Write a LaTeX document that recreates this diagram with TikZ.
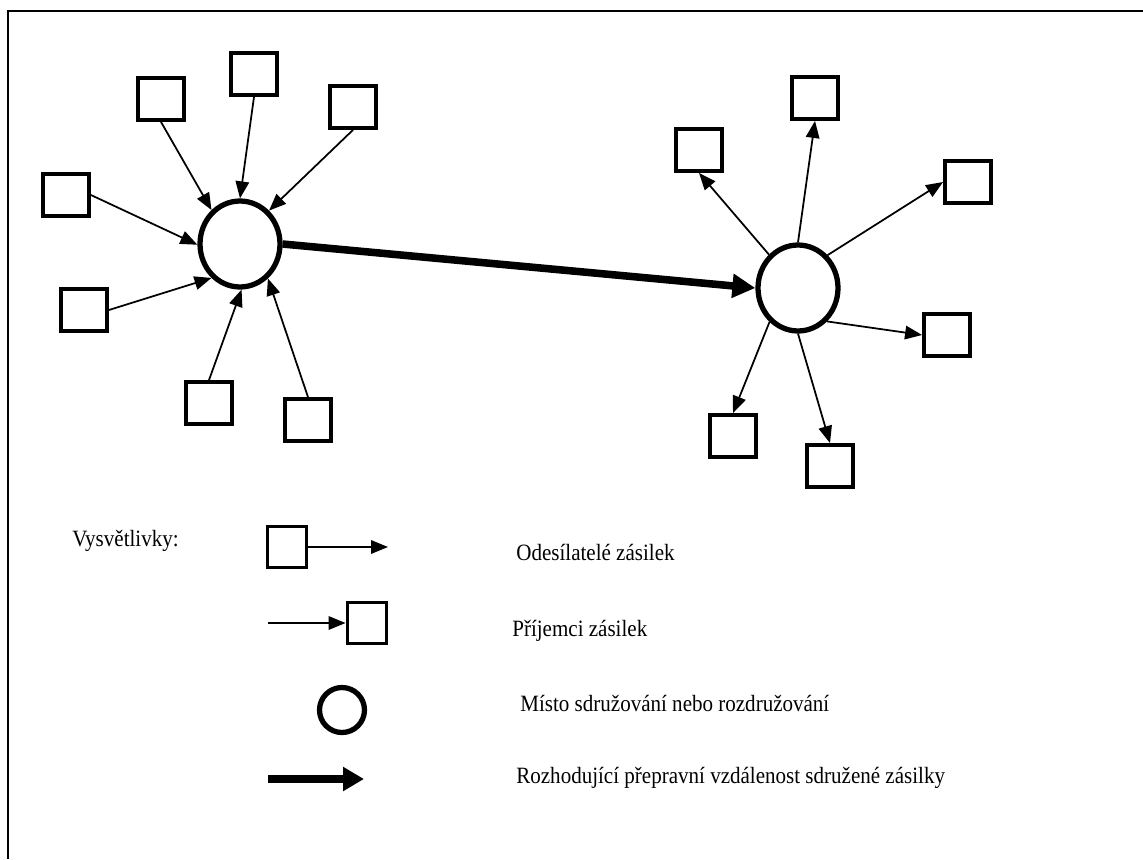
\documentclass[tikz,border=0pt]{standalone}
\usepackage{fontspec}
\setmainfont{Liberation Serif}
\newfontfamily\keyfont[FakeStretch=0.9]{Liberation Serif}
\usetikzlibrary{arrows.meta,shapes.geometric}

\tikzset{
  box/.style={draw, line width=2.2pt, minimum width=0.92cm, minimum height=0.84cm, inner sep=0pt},
  keybox/.style={box, minimum width=0.78cm, minimum height=0.82cm},
  hub/.style={draw, ellipse, line width=3pt, minimum width=1.6cm, minimum height=1.72cm, inner sep=0pt},
  feed/.style={line width=1pt, -{Triangle[length=0.34cm,width=0.27cm]}},
  trunk/.style={line width=4.3pt, -{Triangle[length=0.46cm,width=0.46cm]}},
  note/.style={anchor=base west, inner sep=0pt, font=\keyfont\fontsize{13.3}{16}\selectfont}
}

\begin{document}
\begin{tikzpicture}[x=0.02cm,y=-0.02cm]
\useasboundingbox (0,0) rectangle (1143,859);
\draw[line width=0.85pt] (8,859) -- (8,11) -- (1143,11);

% senders and gathering point
\node[hub] (hubL) at (240,244) {};
\node[box] (s1) at (161,99) {};
\node[box] (s2) at (254,74) {};
\node[box] (s3) at (353,107) {};
\node[box] (s4) at (66,195) {};
\node[box] (s5) at (84,310) {};
\node[box] (s6) at (209,403) {};
\node[box] (s7) at (308,420) {};

\draw[feed] (s1.south) -- (hubL.130);
\draw[feed] (s2.south) -- (hubL.90);
\draw[feed] (s3.south) -- (hubL.49);
\draw[feed] (s4.east) -- (hubL.181);
\draw[feed] (s5.east) -- (hubL.230);
\draw[feed] (s6.north) -- (hubL.272);
\draw[feed] (s7.north) -- (hubL.309);

% receivers and splitting point
\node[hub] (hubR) at (798,288) {};
\node[box] (r1) at (699,150) {};
\node[box] (r2) at (815,98) {};
\node[box] (r3) at (968,182) {};
\node[box] (r4) at (947,335) {};
\node[box] (r5) at (733,436) {};
\node[box] (r6) at (830,466) {};

\draw[feed] (hubR.131) -- (r1.south);
\draw[feed] (hubR.90) -- (r2.south);
\draw[feed] (hubR.48) -- (r3.west);
\draw[feed] (hubR.-49) -- (r4.west);
\draw[feed] (hubR.230) -- (r5.north);
\draw[feed] (hubR.270) -- (r6.north);

\draw[trunk] (hubL.east) -- (hubR.west);

% legend
\node[note] (key) at (72,546) {Vysvětlivky:};

\node[keybox] (keyS) at (287,547) {};
\coordinate (keySend) at (388,547);
\draw[feed] (keyS.east) -- (keySend);
\node[note] (txtS) at (516,560) {Odesílatelé zásilek};

\node[keybox] (keyR) at (367,623) {};
\coordinate (keyRstart) at (268,623);
\draw[feed] (keyRstart) -- (keyR.west);
\node[note] (txtR) at (512,636) {Příjemci zásilek};

\node[draw, circle, line width=3pt, minimum size=0.9cm, inner sep=0pt] (keyHub) at (342,710) {};
\node[note] (txtH) at (520,711) {Místo sdružování nebo rozdružování};

\coordinate (keyTa) at (268,779);
\coordinate (keyTb) at (364,779);
\draw[line width=5pt, -{Triangle[length=0.42cm,width=0.46cm]}] (keyTa) -- (keyTb);
\node[note] (txtT) at (516,783) {Rozhodující přepravní vzdálenost sdružené zásilky};

\end{tikzpicture}
\end{document}
